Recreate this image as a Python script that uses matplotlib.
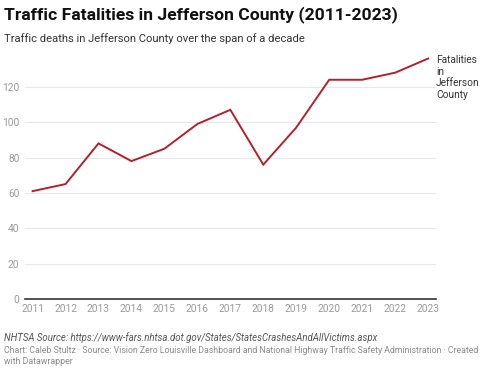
import matplotlib
matplotlib.use("Agg")
import matplotlib.pyplot as plt

# ── Data ─────────────────────────────────────────────────────────────────────
years = [2011, 2012, 2013, 2014, 2015, 2016, 2017, 2018, 2019, 2020, 2021, 2022, 2023]
fatalities = [61, 65, 88, 78, 85, 99, 107, 76, 97, 124, 124, 128, 136]
y_ticks = [0, 20, 40, 60, 80, 100, 120]
series_label = "Fatalities\nin\nJefferson\nCounty"

title = "Traffic Fatalities in Jefferson County (2011-2023)"
subtitle = "Traffic deaths in Jefferson County over the span of a decade"
note = "NHTSA Source: https://www-fars.nhtsa.dot.gov/States/StatesCrashesAndAllVictims.aspx"
credit = ("Chart: Caleb Stultz \u00b7 Source: Vision Zero Louisville Dashboard and National "
          "Highway Traffic Safety Administration \u00b7 Created\nwith Datawrapper")

W, H = 488, 371
plt.rcParams["font.family"] = ["Roboto", "DejaVu Sans"]

fig = plt.figure(figsize=(W / 100, H / 100), dpi=100)
fig.patch.set_facecolor("white")

# axes box in pixel coords: x 25..436, y 55..299 (top-down)
ax = fig.add_axes([25 / W, (H - 299) / H, (436 - 25) / W, (299 - 55) / H])
ax.plot(years, fatalities, color="#b3202e", linewidth=1.4, solid_joinstyle="miter")
ax.set_xlim(2010.77, 2023.24)
ax.set_ylim(0, 138)

ax.set_yticks(y_ticks)
ax.set_xticks(years)
ax.set_xticklabels([str(y) for y in years])
ax.tick_params(axis="both", length=0, labelsize=7.3, labelcolor="#9a9a9a")
ax.tick_params(axis="y", pad=4)
ax.tick_params(axis="x", pad=3.5)
ax.grid(axis="y", color="#e8e8e8", linewidth=0.8)
ax.set_axisbelow(True)
for side in ("top", "right", "left"):
    ax.spines[side].set_visible(False)
ax.spines["bottom"].set_color("#333333")
ax.spines["bottom"].set_linewidth(1.2)
ax.set_facecolor("none")

# series label at the end of the line
fig.text(436 / W, 1 - 55 / H, series_label, fontsize=7.3, color="#333333",
         ha="left", va="top", linespacing=1.2)

fig.text(4 / W, 1 - 15 / H, title, fontsize=12.6, fontweight="bold",
         color="#111111", ha="left", va="center")
fig.text(4 / W, 1 - 39 / H, subtitle, fontsize=8.1, color="#333333",
         ha="left", va="center")

fig.text(4 / W, 1 - 338 / H, note, fontsize=6.9, style="italic", color="#555555",
         ha="left", va="center")
fig.text(4 / W, 1 - 346 / H, credit, fontsize=6.3, color="#8a8a8a",
         ha="left", va="top", linespacing=1.25)

fig.savefig("out.png", dpi=100, facecolor="white")
plt.close(fig)
